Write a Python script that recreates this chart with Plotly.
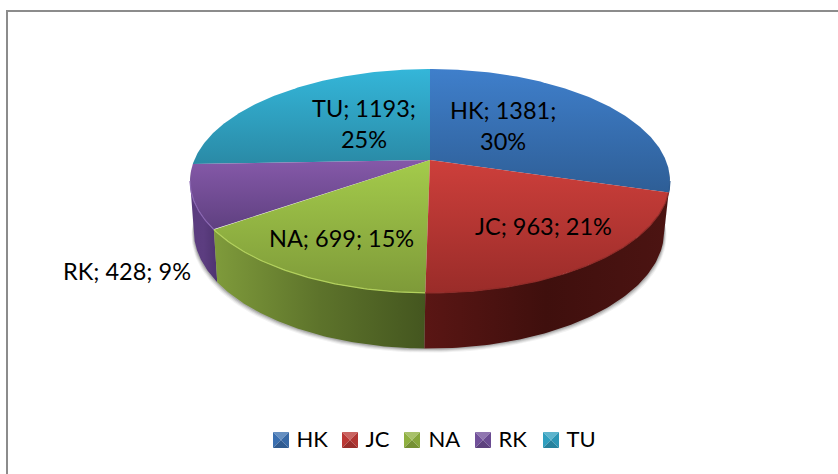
import numpy as np
import plotly.graph_objects as go

categories = ["HK", "JC", "NA", "RK", "TU"]
values = [1381, 963, 699, 428, 1193]
percents = [30, 21, 15, 9, 25]

top_light = ["#3f7fcb", "#cd3f3b", "#a4cb4b", "#8559a9", "#34b6d9"]
top_dark = ["#2e5e96", "#9a2c29", "#7e9a39", "#5f4080", "#2a8aa6"]
wall_stops = [
    ["#2b4f7d", "#2b4f7d", "#2b4f7d"],
    ["#5a1614", "#3f0f0d", "#4c1412"],
    ["#7f9b3b", "#5d732b", "#44561f"],
    ["#5a3c7e", "#5c3d80", "#4e3370"],
    ["#1f6a80", "#1f6a80", "#1f6a80"],
]
rim_colors = ["#2c5a90", "#8f2a27", "#b2d05c", "#8a66b2", "#2a8aa6"]
legend_colors = ["#3a6fb0", "#bb3835", "#8fb040", "#71509a", "#2f9fbf"]
legend_text_widths = [24, 18, 25, 23, 40]

CX, CY, K, S, T = 430.0, 160.0, 0.1875, 235.7, 108.0
SX, SY, C2, BOTTOM_DX = 0.98, 1.05, 209.0, -1.0


def top_edge(theta):
    X, Y = np.sin(theta), -np.cos(theta)
    d = 1 - K * Y
    return CX + S * X / d, CY + T * Y / d


def bottom_edge(theta):
    x, y = top_edge(theta)
    return CX + BOTTOM_DX + SX * (x - CX), C2 + SY * (y - CY)


def mix(hexc, other, f):
    a = [int(hexc[i:i + 2], 16) for i in (1, 3, 5)]
    return "#%02x%02x%02x" % tuple(int(round(p + (other - p) * f)) for p in a)


edges = np.cumsum([0] + values) / sum(values) * 2 * np.pi
fig = go.Figure()

# soft shadow under the wall
for off, op in [(4, 0.08), (3, 0.12), (2, 0.18), (1, 0.25)]:
    t = np.linspace(np.radians(95), np.radians(265), 120)
    bx, by = bottom_edge(t)
    tx, ty = top_edge(t)
    fig.add_trace(go.Scatter(
        x=np.r_[tx, bx[::-1] + off * 0.6 * np.sign(bx[::-1] - CX)],
        y=np.r_[ty, by[::-1] + off],
        mode="lines", line=dict(width=0), fill="toself",
        fillcolor=f"rgba(90,90,90,{op})", showlegend=False, hoverinfo="skip"))

# outer walls, back to front
vis_a, vis_b = np.radians(100.8), np.radians(259.2)
for i in [3, 0, 2, 1]:
    a, b = max(edges[i], vis_a), min(edges[i + 1], vis_b)
    if b <= a:
        continue
    t = np.linspace(a, b, 80)
    tx, ty = top_edge(t)
    bx, by = bottom_edge(t)
    fig.add_trace(go.Scatter(
        x=np.r_[tx, bx[::-1]], y=np.r_[ty, by[::-1]],
        mode="lines", line=dict(width=0), fill="toself",
        fillgradient=dict(type="horizontal", colorscale=[
            [0, wall_stops[i][0]], [0.5, wall_stops[i][1]], [1, wall_stops[i][2]]]),
        showlegend=False, hoverinfo="skip"))

# top faces
for i in [4, 3, 0, 2, 1]:
    t = np.linspace(edges[i], edges[i + 1], 160)
    tx, ty = top_edge(t)
    fig.add_trace(go.Scatter(
        x=np.r_[CX, tx, CX], y=np.r_[CY, ty, CY],
        mode="lines", line=dict(width=0), fill="toself",
        fillgradient=dict(type="vertical",
                          colorscale=[[0, top_dark[i]], [1, top_light[i]]]),
        showlegend=False, hoverinfo="skip"))
    a, b = max(edges[i], vis_a), min(edges[i + 1], vis_b)
    if b > a:
        t = np.linspace(a, b, 80)
        tx, ty = top_edge(t)
        fig.add_trace(go.Scatter(x=tx, y=ty, mode="lines",
                                 line=dict(width=1.2, color=rim_colors[i]),
                                 showlegend=False, hoverinfo="skip"))

# legend entries: text comes from the legend, bevelled swatches are shapes below
for i, c in enumerate(categories):
    fig.add_trace(go.Scatter(
        x=[None], y=[None], mode="markers", name=c, legendwidth=legend_text_widths[i],
        marker=dict(symbol="square", size=15, color="rgba(0,0,0,0)",
                    line=dict(width=0))))

swatch_left = [273, 342, 404, 475, 543]
swatch_y, swatch_size = 432, 16
shapes = [
    dict(type="line", xref="paper", yref="paper", x0=7 / 838, x1=1, y0=1 - 11 / 474, y1=1 - 11 / 474,
         line=dict(color="#8c8c8c", width=2)),
    dict(type="line", xref="paper", yref="paper", x0=7 / 838, x1=7 / 838, y0=0, y1=1 - 10 / 474,
         line=dict(color="#8c8c8c", width=2)),
]
for left, col in zip(swatch_left, legend_colors):
    x0, x1, y0, y1 = left, left + swatch_size, swatch_y, swatch_y + swatch_size
    xm, ym = (x0 + x1) / 2, (y0 + y1) / 2
    facets = [
        (f"M{x0},{y0}L{x1},{y0}L{xm},{ym}Z", mix(col, 255, 0.22)),
        (f"M{x0},{y0}L{x0},{y1}L{xm},{ym}Z", col),
        (f"M{x1},{y0}L{x1},{y1}L{xm},{ym}Z", mix(col, 0, 0.06)),
        (f"M{x0},{y1}L{x1},{y1}L{xm},{ym}Z", mix(col, 0, 0.18)),
    ]
    for path, fc in facets:
        shapes.append(dict(type="path", path=path, fillcolor=fc, line=dict(width=0), layer="above"))

label_place = {
    "HK": (503, 125.5), "JC": (543, 226), "NA": (341, 238),
    "RK": (127, 271), "TU": (364, 123),
}
wrapped = {"HK", "TU"}
for c, v, p in zip(categories, values, percents):
    sep = ";<br>" if c in wrapped else "; "
    x, y = label_place[c]
    fig.add_annotation(x=x, y=y, text=f"{c}; {v}{sep}{p}%", showarrow=False,
                       font=dict(family="Lato", size=23.5, color="#000000"))

fig.update_layout(
    width=838, height=474, margin=dict(l=0, r=0, t=0, b=0),
    paper_bgcolor="white", plot_bgcolor="white",
    xaxis=dict(range=[0, 838], visible=False, fixedrange=True),
    yaxis=dict(range=[474, 0], visible=False, fixedrange=True),
    legend=dict(orientation="h", x=0.5179, xanchor="center", y=0.074, yanchor="middle",
                font=dict(family="Lato", size=22, color="#000000"),
                bgcolor="rgba(0,0,0,0)", itemclick=False, itemdoubleclick=False),
    shapes=shapes,
)
fig.write_html("out.html", config={"displayModeBar": False},
               post_script="document.body.style.margin='0';document.body.style.overflow='hidden';")
